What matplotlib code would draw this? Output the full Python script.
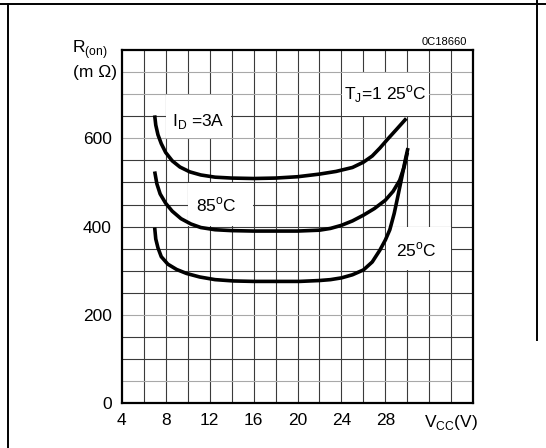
import numpy as np
import matplotlib.pyplot as plt
from matplotlib.patches import Rectangle
from matplotlib.lines import Line2D

plt.rcParams['font.family'] = ['Liberation Sans', 'DejaVu Sans']

# on-resistance vs supply voltage, ID = 3 A
vcc_125 = [7.0, 7.1, 7.3, 7.6, 8.0, 8.6, 9.3, 10.2, 11.2, 12.5, 14, 16, 18, 20,
           22, 23.5, 25, 26, 26.8, 27.5, 28.2, 29, 29.9]
ron_125 = [652, 630, 608, 588, 568, 549, 535, 524, 517, 512, 510, 509, 510, 513,
           519, 525, 534, 546, 560, 578, 598, 620, 645]

vcc_85 = [7.0, 7.2, 7.5, 8.0, 8.6, 9.4, 10.3, 11.2, 12.5, 14, 16, 18, 20, 22,
          23, 24, 25, 26, 27, 28, 28.7, 29.3, 29.7, 30.0]
ron_85 = [525, 497, 474, 453, 435, 418, 406, 398, 393, 391, 390, 390, 390, 392,
          396, 403, 413, 426, 441, 460, 480, 505, 535, 568]

vcc_25 = [7.0, 7.1, 7.3, 7.6, 8.2, 9.0, 9.9, 11.1, 12.5, 14.2, 16, 18, 20.2, 22,
          23, 24, 25, 26, 26.8, 27.5, 28, 28.4, 28.8, 29.1, 29.5, 29.8, 30.05]
ron_25 = [398, 372, 352, 332, 315, 303, 294, 286, 280, 277, 276, 276, 276, 278,
          280, 284, 291, 302, 320, 347, 370, 393, 430, 465, 513, 550, 578]

x_ticks = [4, 8, 12, 16, 20, 24, 28]
y_ticks = [0, 200, 400, 600]
light_rows = [50, 200, 600, 700, 750]

fig = plt.figure(figsize=(5.46, 4.48), dpi=100)
ax = fig.add_axes([0.2229, 0.0998, 0.6440, 0.7886])
ax.set_xlim(4, 36)
ax.set_ylim(0, 800)

# grid
for gx in np.arange(6, 36, 2):
    ax.axvline(gx, color='#3a3a3a', lw=0.8, zorder=1)
for gy in np.arange(50, 800, 50):
    c = '#a8a8a8' if gy in light_rows else '#3a3a3a'
    ax.axhline(gy, color=c, lw=0.8, zorder=1)

# white label boxes over the grid
boxes = [(8, 600, 6, 100), (24, 650, 8, 100), (10, 400, 6, 100), (28, 300, 6, 100)]
for bx, by, bw, bh in boxes:
    ax.add_patch(Rectangle((bx + 0.06, by + 1.5), bw - 0.12, bh - 3,
                           facecolor='white', edgecolor='none', zorder=2))

for xs, ys in [(vcc_125, ron_125), (vcc_85, ron_85), (vcc_25, ron_25)]:
    ax.plot(xs, ys, color='black', lw=2.6, solid_capstyle='butt', zorder=3)

fs = 12.5
ax.text(11.0, 638, r'I$_\mathregular{D}$ =3A', fontsize=fs, ha='center', va='center', zorder=4)
ax.text(28.0, 700, r'T$_\mathregular{J}$=1 25$^\mathregular{o}$C', fontsize=fs,
        ha='center', va='center', zorder=4)
ax.text(12.6, 448, r'85$^\mathregular{o}$C', fontsize=fs, ha='center', va='center', zorder=4)
ax.text(30.8, 347, r'25$^\mathregular{o}$C', fontsize=fs, ha='center', va='center', zorder=4)

ax.text(35.4, 817, '0C18660', fontsize=8, ha='right', va='center')
ax.text(2.75, 800, r'R$_\mathregular{(on)}$', fontsize=fs, ha='right', va='center')
ax.text(3.6, 750, '(m \u03a9)', fontsize=fs, ha='right', va='center')

ax.set_xticks(x_ticks + [34])
ax.set_xticklabels([str(v) for v in x_ticks] + [r'V$_\mathregular{CC}$(V)'])
ax.set_yticks(y_ticks)
ax.set_yticklabels([str(v) for v in y_ticks])
ax.tick_params(length=0, labelsize=fs)
ax.tick_params(axis='x', pad=7)
ax.tick_params(axis='y', pad=7)
for s in ax.spines.values():
    s.set_linewidth(1.6)
    s.set_zorder(5)

# outer frame
fig.add_artist(Line2D([0, 1], [1 - 4 / 448, 1 - 4 / 448], color='black', lw=1.4))
fig.add_artist(Line2D([8 / 546, 8 / 546], [0, 1 - 4 / 448], color='black', lw=1.4))
fig.add_artist(Line2D([537 / 546, 537 / 546], [1 - 340 / 448, 1], color='black', lw=1.4))

fig.savefig('out.png', dpi=100)
